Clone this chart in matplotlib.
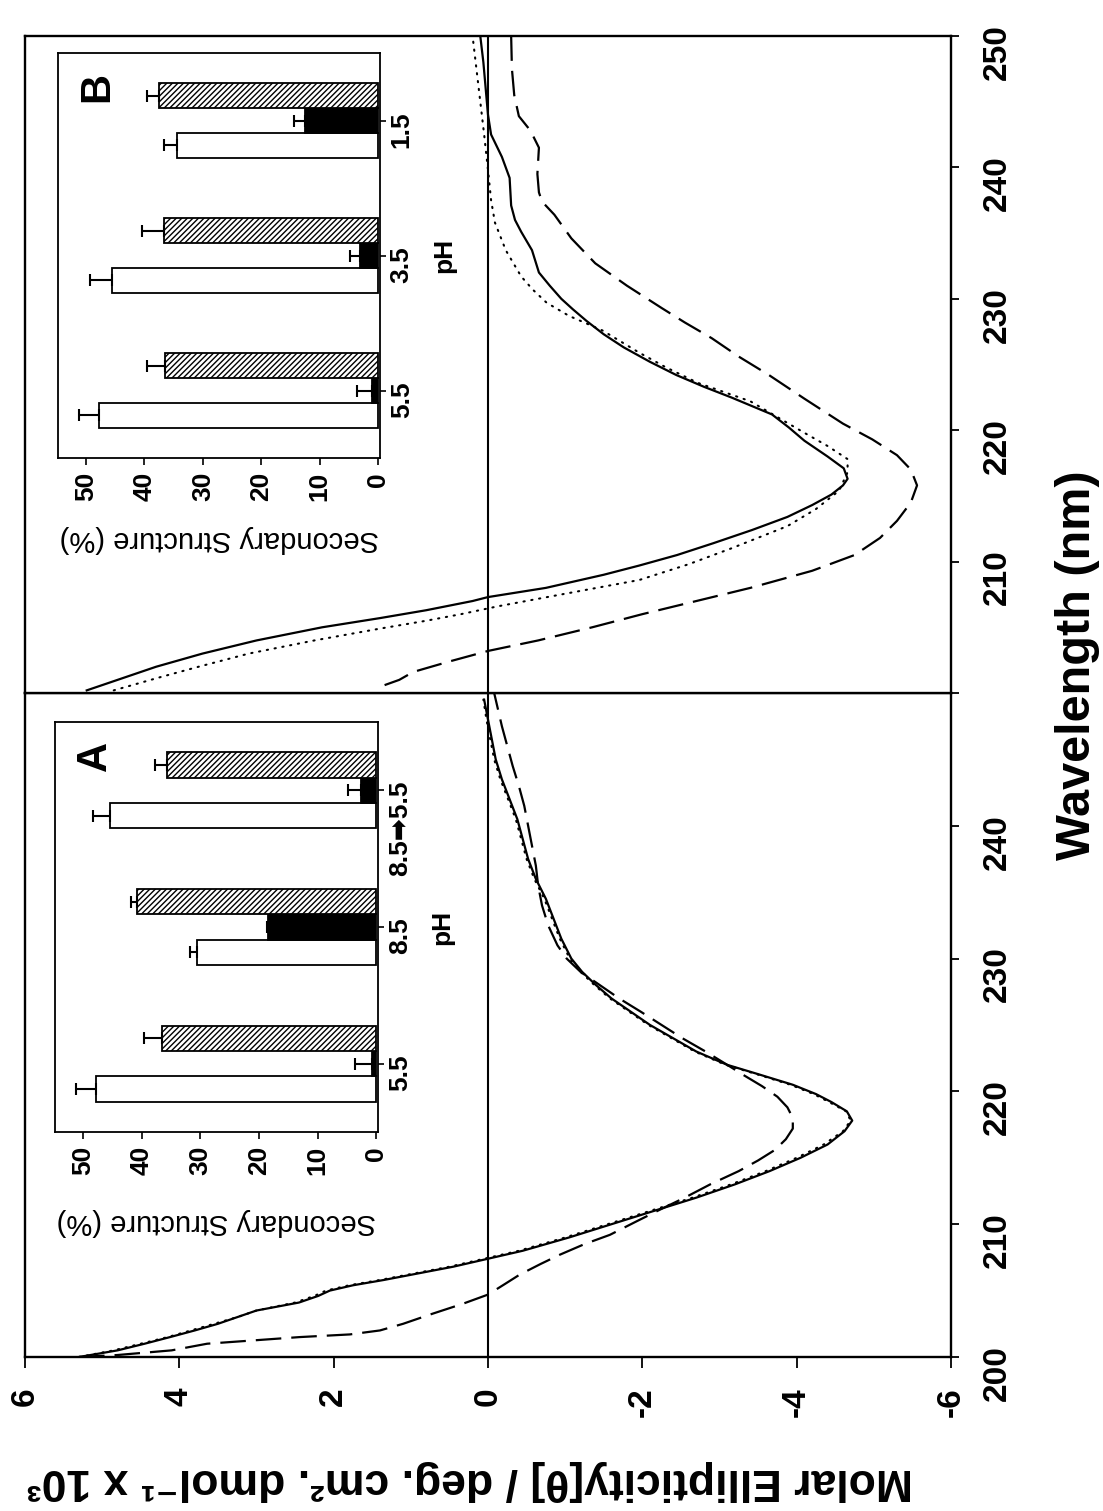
import numpy as np
import matplotlib
matplotlib.use("Agg")
import matplotlib.pyplot as plt

plt.rcParams['font.family'] = ['Liberation Sans', 'DejaVu Sans']
plt.rcParams['font.weight'] = 'bold'
plt.rcParams['hatch.linewidth'] = 1.0

# ---- CD spectra, panel A (bottom) ----
wl_a_solid = [200.0, 200.5, 201.0, 201.5, 202.0, 202.5, 203.0, 203.5, 204.1, 204.6, 205.0, 205.4,
              205.8, 206.3, 206.8, 207.4, 208.0, 209.0, 210.0, 211.0, 212.0, 213.0, 214.0, 215.0,
              216.0, 217.0, 217.8, 218.5, 219.2, 219.8, 220.5, 221.3, 222.0, 223.0, 224.0, 225.0,
              226.0, 227.0, 228.0, 229.0, 230.0, 231.5, 233.0, 234.5, 236.0, 237.5, 239.0, 240.5,
              242.0, 243.5, 245.0, 246.5, 248.0, 249.5]
a_solid = [5.30, 4.80, 4.45, 4.12, 3.80, 3.50, 3.25, 3.00, 2.45, 2.20, 2.05, 1.75,
           1.35, 0.90, 0.45, 0.00, -0.45, -1.05, -1.60, -2.15, -2.70, -3.20, -3.65, -4.05,
           -4.40, -4.62, -4.72, -4.65, -4.45, -4.25, -3.95, -3.50, -3.10, -2.70, -2.40, -2.10,
           -1.85, -1.60, -1.40, -1.22, -1.08, -0.95, -0.85, -0.75, -0.62, -0.52, -0.45, -0.38,
           -0.28, -0.18, -0.10, -0.05, 0.00, 0.05]
a_dotted = [5.30, 4.85, 4.50, 4.15, 3.85, 3.55, 3.25, 3.00, 2.50, 2.25, 2.10, 1.80,
            1.40, 0.95, 0.50, 0.05, -0.40, -1.00, -1.55, -2.10, -2.65, -3.15, -3.60, -4.00,
            -4.35, -4.60, -4.70, -4.64, -4.42, -4.22, -3.92, -3.48, -3.08, -2.68, -2.38, -2.08,
            -1.83, -1.58, -1.38, -1.20, -1.06, -0.93, -0.83, -0.73, -0.60, -0.50, -0.43, -0.36,
            -0.26, -0.16, -0.08, -0.03, 0.02, 0.06]
wl_a_dashed = [200.0, 200.15, 200.5, 201.0, 201.5, 201.7, 202.0, 202.5, 203.2, 204.0, 204.7, 205.5,
               206.2, 207.0, 207.7, 208.5, 209.2, 210.2, 211.1, 212.0, 213.0, 214.0, 214.8, 215.6,
               216.4, 217.2, 218.0, 218.8, 219.6, 220.4, 221.2, 222.0, 223.0, 224.0, 225.0, 226.0,
               227.0, 228.0, 229.0, 230.0, 231.0, 232.5, 234.0, 235.5, 237.0, 238.5, 240.0, 241.5,
               243.0, 244.5, 246.0, 247.5, 249.0, 250.0]
a_dashed = [5.30, 4.80, 4.10, 3.64, 2.44, 1.79, 1.40, 1.10, 0.75, 0.33, 0.00, -0.22,
            -0.41, -0.68, -0.93, -1.25, -1.58, -1.92, -2.23, -2.55, -2.88, -3.25, -3.50, -3.72,
            -3.86, -3.95, -3.95, -3.88, -3.75, -3.55, -3.32, -3.10, -2.82, -2.52, -2.25, -1.98,
            -1.70, -1.45, -1.20, -1.02, -0.90, -0.78, -0.70, -0.65, -0.62, -0.57, -0.52, -0.47,
            -0.40, -0.32, -0.25, -0.18, -0.12, -0.08]

# ---- CD spectra, panel B (top) ----
wl_b_solid = [200.2, 200.7, 201.2, 202.0, 203.0, 204.0, 205.0, 205.7, 206.3, 207.0, 207.3, 208.0,
              209.0, 209.7, 210.5, 211.4, 212.4, 213.4, 214.3, 215.1, 215.8, 216.3, 217.1, 218.0,
              219.2, 220.2, 221.2, 222.5, 223.3, 224.2, 225.2, 226.3, 227.3, 228.3, 229.2, 230.0,
              231.0, 232.0, 233.7, 235.1, 236.0, 237.1, 239.2, 240.8, 242.5, 244.0, 246.0, 248.0,
              250.0]
b_solid = [5.20, 4.95, 4.70, 4.30, 3.70, 3.00, 2.15, 1.40, 0.80, 0.20, 0.00, -0.75,
           -1.50, -1.96, -2.45, -2.92, -3.42, -3.88, -4.20, -4.45, -4.60, -4.66, -4.61, -4.40,
           -4.10, -3.90, -3.68, -3.15, -2.80, -2.44, -2.10, -1.76, -1.50, -1.28, -1.10, -0.95,
           -0.80, -0.66, -0.57, -0.43, -0.35, -0.30, -0.28, -0.18, -0.04, 0.00, 0.03, 0.06,
           0.10]
wl_b_dotted = [200.2, 200.7, 201.2, 202.0, 203.0, 204.0, 204.9, 205.5, 206.0, 206.6, 207.5, 208.6,
               209.8, 211.0, 212.7, 214.0, 215.4, 216.8, 217.8, 218.8, 219.8, 221.0, 222.2, 223.6,
               224.8, 225.9, 227.6, 228.7, 229.7, 230.7, 231.7, 233.7, 235.8, 237.5, 239.8, 242.5,
               245.0, 247.5, 250.0]
b_dotted = [4.85, 4.55, 4.25, 3.75, 3.10, 2.25, 1.40, 0.80, 0.35, -0.13, -0.95, -1.96,
            -2.60, -3.15, -3.88, -4.25, -4.55, -4.66, -4.66, -4.40, -4.10, -3.75, -3.40, -2.72,
            -2.30, -1.96, -1.48, -1.05, -0.76, -0.58, -0.43, -0.23, -0.09, -0.04, 0.00, 0.05,
            0.10, 0.15, 0.20]
wl_b_dashed = [200.6, 201.0, 201.6, 202.4, 203.2, 204.0, 205.0, 206.0, 207.0, 208.0, 209.3, 210.5,
               211.8, 213.1, 214.5, 215.8, 217.0, 218.1, 219.3, 220.5, 222.4, 224.2, 225.6, 227.0,
               228.2, 229.3, 231.0, 232.7, 234.6, 236.4, 237.4, 238.1, 239.5, 241.5, 242.8, 243.9,
               245.5, 247.5, 250.0]
b_dashed = [1.34, 1.15, 0.97, 0.50, 0.00, -0.65, -1.35, -2.00, -2.70, -3.40, -4.20, -4.75,
            -5.08, -5.30, -5.48, -5.56, -5.48, -5.30, -4.98, -4.60, -4.10, -3.64, -3.25, -2.90,
            -2.55, -2.25, -1.80, -1.39, -1.08, -0.86, -0.70, -0.66, -0.64, -0.66, -0.55, -0.40,
            -0.34, -0.31, -0.30]

# ---- secondary structure insets (%) ----
ph_a = ['5.5', '8.5', '8.5\u27a15.5']
a_white = [47.8, 30.5, 45.5]
a_white_err = [3.4, 1.2, 2.8]
a_black = [0.8, 18.4, 2.6]
a_black_err = [2.8, 0.3, 2.2]
a_hatch = [36.5, 40.8, 35.7]
a_hatch_err = [3.1, 1.0, 2.1]

ph_b = ['5.5', '3.5', '1.5']
b_white = [47.8, 45.5, 34.4]
b_white_err = [3.4, 3.9, 2.2]
b_black = [1.0, 3.1, 12.5]
b_black_err = [2.6, 1.7, 2.0]
b_hatch = [36.5, 36.6, 37.5]
b_hatch_err = [3.0, 3.8, 2.0]

W, H = 1103, 1511


def fig_rect(x0, y0, x1, y1):
    # pixel box (top-left origin) -> figure fraction rect
    return [x0 / W, 1 - y1 / H, (x1 - x0) / W, (y1 - y0) / H]


fig = plt.figure(figsize=(W / 100, H / 100), dpi=100)
axA = fig.add_axes(fig_rect(25, 693, 951, 1357))
axB = fig.add_axes(fig_rect(25, 36, 951, 693))

solid_kw = dict(color='black', lw=1.6, ls='-')
dot_kw = dict(color='black', lw=1.5, ls=(0, (0.6, 3.2)), dash_capstyle='round')
dash_kw = dict(color='black', lw=1.6, ls=(0, (11.5, 4.5)))

axA.plot(a_dotted, wl_a_solid, **dot_kw)
axA.plot(a_solid, wl_a_solid, **solid_kw)
axA.plot(a_dashed, wl_a_dashed, **dash_kw)
axB.plot(b_dotted, wl_b_dotted, **dot_kw)
axB.plot(b_solid, wl_b_solid, **solid_kw)
axB.plot(b_dashed, wl_b_dashed, **dash_kw)

for ax in (axA, axB):
    ax.set_xlim(6, -6)
    ax.set_ylim(200, 250)
    ax.axvline(0, color='black', lw=1.5)
    for s in ax.spines.values():
        s.set_linewidth(1.7)
    ax.yaxis.tick_right()
    ax.tick_params(axis='y', direction='out', length=6, width=1.3,
                   labelsize=24, labelrotation=90, pad=16)

axA.set_xticks([6, 4, 2, 0, -2, -4, -6])
axA.set_xticklabels(['6', '4', '2', '0', '-2', '-4', '-6'])
axA.tick_params(axis='x', direction='out', length=8, width=1.3,
                labelsize=24, labelrotation=90, pad=14)
axA.set_yticks([200, 210, 220, 230, 240])
axB.set_xticks([])
axB.set_yticks([200, 210, 220, 230, 240, 250])
axB.set_yticklabels(['', '210', '220', '230', '240', '250'])

fig.text(1077 / W, 1 - 665 / H, 'Wavelength (nm)', rotation=90,
         ha='center', va='center', fontsize=35, fontweight='bold')
fig.text(470 / W, 1 - 1480 / H,
         'Molar Ellipticity[\u03b8] / deg. cm\u00b2. dmol\u207b\u00b9 x 10\u00b3',
         rotation=180, ha='center', va='center', fontsize=32, fontweight='bold')


def inset(rect, labels, white, white_err, black, black_err, hatch, hatch_err,
          letter, title_y):
    ax = fig.add_axes(rect)
    idx = np.arange(len(labels))
    w = 0.185
    ax.barh(idx - w, white, height=w, color='white', edgecolor='black', lw=1.3)
    ax.barh(idx, black, height=w, color='black', edgecolor='black', lw=1.3)
    ax.barh(idx + w, hatch, height=w, color='white', edgecolor='black', lw=1.3,
            hatch='//////')
    for vals, errs, pos in ((white, white_err, idx - w), (black, black_err, idx),
                            (hatch, hatch_err, idx + w)):
        ax.errorbar(vals, pos, xerr=[np.zeros(len(vals)), errs], fmt='none',
                    ecolor='black', elinewidth=1.5, capsize=4.5, capthick=1.5)
    ax.set_xlim(54.8, -0.3)
    ax.set_ylim(-0.5, 2.5)
    ax.set_xticks([0, 10, 20, 30, 40, 50])
    ax.tick_params(axis='x', direction='out', length=5, width=1.2,
                   labelsize=19, labelrotation=90, pad=5)
    ax.yaxis.tick_right()
    ax.set_yticks(idx)
    ax.set_yticklabels(labels)
    ax.tick_params(axis='y', direction='out', length=4, width=1.2,
                   labelsize=19, labelrotation=90, pad=3)
    for s in ax.spines.values():
        s.set_linewidth(1.3)
    ax.text(0.5, title_y, 'Secondary Structure (%)', transform=ax.transAxes,
            rotation=180, ha='center', va='center', fontsize=21, fontweight='normal')
    ax.text(1.2, 1, 'pH', transform=ax.get_yaxis_transform(), rotation=90,
            ha='center', va='center', fontsize=19, fontweight='bold')
    ax.text(48.0, 2.25, letter, rotation=90, ha='center', va='center',
            fontsize=30, fontweight='bold')
    return ax


inset(fig_rect(58, 53, 380, 458), ph_b, b_white, b_white_err, b_black, b_black_err,
      b_hatch, b_hatch_err, 'B', -0.2)
inset(fig_rect(55, 722, 378, 1132), ph_a, a_white, a_white_err, a_black, a_black_err,
      a_hatch, a_hatch_err, 'A', -0.22)

fig.savefig('out.png', dpi=100)
